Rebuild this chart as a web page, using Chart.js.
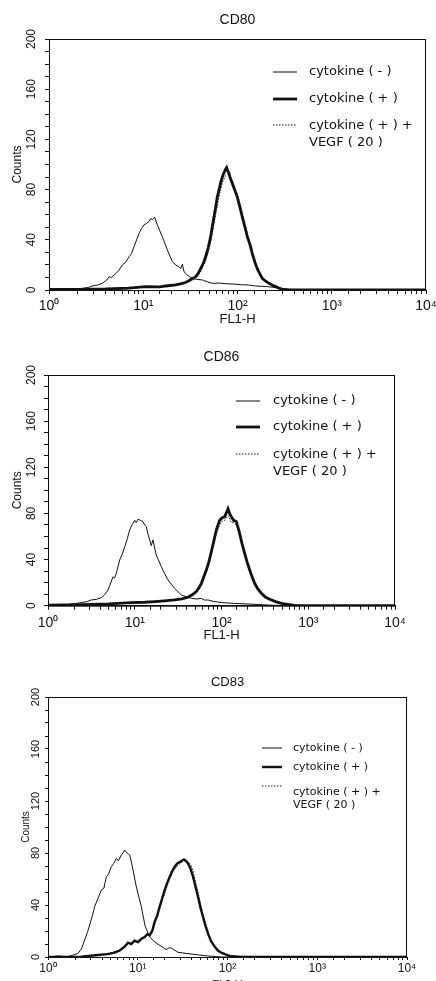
<!DOCTYPE html>
<html>
<head>
<meta charset="utf-8">
<script src="https://cdn.jsdelivr.net/npm/chart.js@4.4.1/dist/chart.umd.min.js"></script>
<style>
  body { margin: 0; background: #fff; width: 436px; height: 981px; overflow: hidden; position: relative; }
  canvas { position: absolute; left: 0; }
</style>
</head>
<body>
<canvas id="c80" width="436" height="330" style="top:0px"></canvas>
<canvas id="c86" width="436" height="310" style="top:335px"></canvas>
<canvas id="c83" width="436" height="335" style="top:660px"></canvas>
<script>
// ---- data (x = fluorescence, y = counts) ----
const seriesLabels = ['cytokine ( - )', 'cytokine ( + )', ['cytokine ( + ) +', 'VEGF ( 20 )']];
const xTickValues = [1, 10, 100, 1000, 10000];
const xTickLabels = ['10\u2070', '10\u00b9', '10\u00b2', '10\u00b3', '10\u2074'];
const yTickLabels = [0, 40, 80, 120, 160, 200];

// CD80
const cd80NegX  = [1, 1.3, 1.62, 2.0, 2.26, 2.6, 2.88, 3.3, 3.68, 4.1, 4.34, 4.6, 5.09, 5.5, 6.0, 6.5, 7.06, 7.5, 7.98, 8.5, 9.02, 9.6, 10.2, 10.8, 11.5, 12.0, 12.5, 13.2, 14.1, 15.0, 15.9, 17.0, 18.0, 19.2, 20.4, 22.0, 23.9, 25.0, 26.0, 27.0, 28.2, 30.5, 33.1, 37.0, 42.4, 48.0, 54.1, 65.0, 75.0, 88.1, 110, 130, 155, 200, 251, 300, 355, 450, 600, 1000, 10000];
const cd80NegY  = [0, 0.3, 0.5, 0.8, 1.3, 2.0, 3.2, 4.0, 5.3, 8.0, 10.6, 10.0, 13, 15.5, 20, 22, 26.5, 29, 34.5, 40, 45, 49, 52, 53, 54.5, 57, 56, 58, 52, 47, 42.5, 37, 32, 27, 22.6, 20, 18.6, 17, 20.5, 15, 13, 11, 9.3, 8.5, 8, 6.5, 5.3, 5.5, 5, 4.8, 4.2, 4.0, 3.2, 2.8, 2, 1.2, 0.5, 0.3, 0, 0, 0];
const cd80PosX  = [1, 2, 4, 7, 10.6, 15, 17.3, 22, 26, 28, 30.5, 33, 36, 38.5, 40.6, 43.5, 45.9, 49, 51.9, 55, 58.6, 61, 64.7, 67, 70.2, 72.5, 74.5, 76.7, 78.5, 81.3, 84, 88.1, 93, 99.5, 106, 112.6, 120, 127, 136, 143.6, 153, 162, 172, 183, 199, 216, 235, 254, 275, 299, 350, 1000, 10000];
const cd80PosY  = [0.5, 0.5, 0.8, 1.5, 2.7, 2.5, 3.2, 4.0, 5.3, 6.0, 7.4, 9.0, 10.6, 13.5, 17, 21.5, 26.5, 34, 42.5, 54, 66, 74, 82, 87, 91.6, 94, 96, 97.5, 95, 93, 89, 85, 80, 74, 66, 58, 50, 42.5, 36, 29, 22, 17, 13, 9.3, 7, 5.3, 3.8, 2.7, 1.5, 0.5, 0, 0, 0];
const cd80VegfX = [1, 3, 7, 12, 17, 22, 26, 30.5, 36, 40.6, 45.9, 51.9, 58.6, 64.7, 70.2, 74.5, 78.5, 81.3, 88.1, 93, 99.5, 106, 112.6, 120, 127, 136, 143.6, 153, 162, 172, 183, 199, 216, 235, 254, 275, 299, 330, 1000, 10000];
const cd80VegfY = [0.3, 0.6, 1.2, 2.5, 3.0, 3.5, 4.8, 6.8, 9.5, 14.5, 23, 38, 60, 77, 87, 91, 92, 91, 87, 82, 76, 69, 61, 53, 45, 38, 31, 24, 18.5, 14, 10.5, 7.5, 5.8, 4.2, 3.0, 1.8, 0.8, 0.3, 0, 0];

// CD86
const cd86NegX  = [1, 1.7, 2.42, 2.8, 3.16, 3.6, 4.12, 4.5, 4.92, 5.3, 5.61, 5.85, 6.14, 6.7, 7.2, 7.66, 8.2, 8.73, 9.3, 9.98, 10.4, 10.9, 11.6, 12.4, 13.0, 13.6, 14.2, 14.9, 15.5, 16.2, 17.7, 20.2, 22, 24.2, 28.8, 34.4, 40, 44.9, 52, 58.6, 64, 69.8, 80, 99.5, 140, 202, 300, 410, 1000, 10000];
const cd86NegY  = [0, 0.9, 2.7, 3.5, 5, 5.5, 7, 9.5, 13.6, 20, 25, 24, 28, 39.6, 45, 51, 58, 65.6, 70, 74, 72, 75, 74, 73, 70, 68.5, 62, 57, 52, 57, 44, 34, 28, 22.3, 15, 9.3, 7.5, 6.4, 5.8, 6.4, 4.8, 5, 3.8, 2.7, 2, 1.5, 0.8, 0.3, 0, 0];
const cd86PosX  = [1, 2.5, 5, 9.1, 13, 17, 22, 28.8, 35, 41.1, 46, 51.3, 55, 58.6, 62.5, 66.8, 71.5, 76.4, 81.5, 87.1, 91, 95.3, 101, 108.6, 113, 118.9, 124, 129.7, 138, 148.3, 161.8, 172, 184.9, 197, 211.3, 225, 241, 262, 287.7, 320, 358.9, 420, 489.8, 600, 696.6, 1000, 10000];
const cd86PosY  = [0.5, 0.9, 1.5, 2.7, 3.0, 3.6, 4.2, 5, 6, 7.3, 9.5, 12.2, 15.5, 19.4, 25, 31, 38, 47, 56, 65.6, 70, 74, 76, 77, 80, 84, 80, 77, 74, 73, 62.7, 54, 45.4, 38, 31, 25, 19.4, 14.5, 10.7, 7.5, 5.6, 3.5, 2.1, 1.0, 0.3, 0, 0];
const cd86VegfX = [1, 3, 9.1, 17, 28.8, 41.1, 51.3, 58.6, 66.8, 76.4, 87.1, 95.3, 101, 108.6, 118.9, 124, 129.7, 138, 148.3, 161.8, 172, 184.9, 197, 211.3, 225, 241, 262, 287.7, 320, 358.9, 420, 489.8, 600, 1000, 10000];
const cd86VegfY = [0.3, 0.8, 2.4, 3.5, 5.2, 7.8, 12, 18.5, 29, 44, 62, 70, 73, 74, 78, 76, 72, 72, 70, 63, 56, 47, 40, 33, 27, 21, 16, 12, 8.2, 6, 3.8, 2.3, 1, 0, 0];

// CD83
const cd83NegX  = [1, 1.3, 1.67, 1.9, 2.16, 2.35, 2.56, 2.75, 2.91, 3.1, 3.31, 3.6, 3.93, 4.2, 4.47, 4.75, 5.08, 5.4, 5.77, 6.1, 6.56, 6.85, 7.14, 7.6, 8.13, 8.5, 8.85, 9.64, 10.3, 10.96, 12.13, 13.58, 15.42, 18.3, 20.8, 22.2, 23.7, 28.1, 36.3, 45, 55.7, 85.1, 10000];
const cd83NegY  = [0, 0.8, 0.3, 1.5, 2.8, 6, 13, 19, 24.6, 31, 38.7, 45, 51.5, 53, 61.8, 64, 69.5, 72, 75.9, 74, 78.5, 80, 82.3, 80, 78.5, 73, 67, 54, 46, 38.7, 23.3, 15.4, 11.5, 8.2, 5.6, 7, 6.9, 3.6, 2.6, 1.8, 1, 0, 0];
const cd83PosX  = [1, 2.35, 3.61, 4.6, 5.53, 6.3, 7.14, 7.8, 8.47, 9.2, 10.07, 11, 11.94, 12.8, 13.58, 14.5, 15.42, 16.5, 17.54, 18.7, 19.95, 21.3, 22.7, 24.2, 25.8, 27.5, 29.3, 31, 32.7, 34.5, 36.3, 38.7, 41.3, 44, 46.9, 50, 53.3, 56.9, 60.7, 65.8, 71.9, 78, 85.3, 95, 105.7, 120, 142.6, 10000];
const cd83PosY  = [0, 0.3, 1.5, 2.2, 3.3, 5, 8, 11, 10, 12.5, 11.5, 14, 15.4, 17.5, 16.7, 20, 27, 32, 38.7, 45, 51.5, 57, 61.8, 66, 69.5, 72, 73, 74, 75.1, 74, 72, 68, 61.8, 54, 46.4, 38, 31, 24, 18, 12, 8, 5, 3.3, 2, 0.8, 0.5, 0, 0];
const cd83VegfX = [1, 2.6, 4.6, 6.3, 7.8, 9.2, 11, 12.8, 14.5, 16.5, 18.7, 21.3, 24.2, 27.5, 31, 34.5, 36.3, 38.7, 41.3, 44, 46.9, 50, 53.3, 56.9, 60.7, 65.8, 71.9, 78, 85.3, 95, 110, 10000];
const cd83VegfY = [0, 0.5, 2.4, 5.5, 10, 12, 13.5, 17, 20.5, 31, 43, 55, 65, 70, 73, 74, 73, 71.5, 66, 58, 50, 41, 33, 26, 19.5, 13, 8.5, 5.5, 3.5, 1.8, 0.5, 0];

const INK = '#111';
const SANS = "'Liberation Sans', Arial, sans-serif";
const NARROW = "'Liberation Sans Narrow', 'Liberation Sans', sans-serif";
const GENEVA = "'DejaVu Sans', Verdana, sans-serif";

// box round the plot
const frame = {
  id: 'frame',
  beforeDatasetsDraw(chart) {
    const { ctx, chartArea: a } = chart;
    ctx.save();
    ctx.strokeStyle = INK;
    ctx.lineWidth = 1;
    ctx.strokeRect(a.left + 0.5, a.top + 0.5, a.right - a.left - 1, a.bottom - a.top);
    ctx.restore();
  }
};

// legend drawn inside the plot, right side
const insetLegend = {
  id: 'insetLegend',
  afterDatasetsDraw(chart, args, o) {
    const { ctx } = chart;
    ctx.save();
    ctx.font = o.size + 'px ' + GENEVA;
    ctx.fillStyle = INK;
    ctx.textBaseline = 'middle';
    chart.data.datasets.forEach((ds, i) => {
      ctx.beginPath();
      ctx.strokeStyle = ds.borderColor;
      ctx.lineWidth = ds.borderWidth;
      ctx.setLineDash(ds.borderDash || []);
      ctx.moveTo(o.x, o.rows[i]);
      ctx.lineTo(o.x + o.len, o.rows[i]);
      ctx.stroke();
      [].concat(ds.label).forEach((t, k) => ctx.fillText(t, o.textX, o.textRows[i] + k * o.gap));
    });
    ctx.restore();
  }
};

function series(label, xs, ys, width, dash) {
  return {
    label,
    data: xs.map((x, i) => ({ x, y: ys[i] })),
    borderColor: INK,
    borderWidth: width,
    borderDash: dash,
    pointRadius: 0,
    tension: 0,
    fill: false
  };
}

function histogram(id, c) {
  return new Chart(document.getElementById(id), {
    type: 'line',
    data: {
      datasets: [
        series(seriesLabels[0], c.neg[0], c.neg[1], 1, []),
        series(seriesLabels[1], c.pos[0], c.pos[1], c.thick, []),
        series(seriesLabels[2], c.vegf[0], c.vegf[1], 1, [1.5, 1.5])
      ]
    },
    options: {
      responsive: false,
      animation: false,
      events: [],
      layout: { padding: { left: 0, right: c.right, top: 0, bottom: 0 } },
      plugins: {
        legend: { display: false },
        tooltip: { enabled: false },
        title: {
          display: true, text: c.title, fullSize: false, color: INK,
          font: { family: SANS, size: c.titleSize, weight: 'normal' },
          padding: c.titlePad
        },
        insetLegend: c.legend
      },
      scales: {
        x: {
          type: 'logarithmic', min: 1, max: 10000,
          border: { display: true, color: INK, width: 1 },
          grid: { drawOnChartArea: false, drawTicks: true, tickLength: c.xTick, color: INK },
          ticks: {
            autoSkip: false, maxRotation: 0, minRotation: 0, padding: c.xPad, color: INK,
            font: { family: NARROW, size: c.xFont },
            callback: v => {
              const i = xTickValues.findIndex(t => Math.abs(t - v) < 1e-6);
              return i >= 0 ? xTickLabels[i] : '';
            }
          },
          title: {
            display: true, text: c.xTitle, color: INK,
            font: { family: SANS, size: c.xTitleSize }, padding: { top: 0, bottom: c.xTitlePad }
          },
          afterFit: s => { s.height = c.xHeight; s.paddingLeft = 0; s.paddingRight = 0; }
        },
        y: {
          min: 0, max: 200,
          border: { display: true, color: INK, width: 1 },
          grid: { drawOnChartArea: false, drawTicks: true, tickLength: c.yTick, color: INK },
          ticks: {
            stepSize: 10, autoSkip: false, minRotation: 90, maxRotation: 90,
            crossAlign: 'center', padding: c.yPad, color: INK,
            font: { family: NARROW, size: c.yFont },
            callback: v => yTickLabels.includes(v) ? String(v) : ''
          },
          title: {
            display: true, text: 'Counts', color: INK,
            font: { family: SANS, size: c.yTitleSize }, padding: { top: c.yTitlePad, bottom: 0 }
          },
          afterFit: s => { s.width = c.yWidth; s.paddingTop = 0; s.paddingBottom = 0; }
        }
      }
    },
    plugins: [frame, insetLegend]
  });
}

histogram('c80', {
  title: 'CD80', titleSize: 14, titlePad: { top: 11.6, bottom: 10.6 },
  neg: [cd80NegX, cd80NegY], pos: [cd80PosX, cd80PosY], vegf: [cd80VegfX, cd80VegfY], thick: 2.8,
  right: 10, xHeight: 40, yWidth: 49,
  xTick: 4, xPad: 4, xFont: 14, xTitle: 'FL1-H', xTitleSize: 13, xTitlePad: 3.2,
  yTick: 4, yPad: 3, yFont: 12, yTitleSize: 12, yTitlePad: 10.8,
  legend: { x: 273, len: 24, rows: [72, 99, 125], textX: 309, textRows: [72, 99, 126], gap: 17, size: 13 }
});

histogram('c86', {
  title: 'CD86', titleSize: 14, titlePad: { top: 13.6, bottom: 9.6 },
  neg: [cd86NegX, cd86NegY], pos: [cd86PosX, cd86PosY], vegf: [cd86VegfX, cd86VegfY], thick: 2.8,
  right: 41, xHeight: 39.3, yWidth: 48,
  xTick: 4, xPad: 5, xFont: 14, xTitle: 'FL1-H', xTitleSize: 13, xTitlePad: 2.2,
  yTick: 4, yPad: 2, yFont: 12, yTitleSize: 12, yTitlePad: 10.8,
  legend: { x: 236, len: 24, rows: [66, 92, 119], textX: 273, textRows: [66, 92, 120], gap: 17, size: 13 }
});

histogram('c83', {
  title: 'CD83', titleSize: 13, titlePad: { top: 14.2, bottom: 7.2 },
  neg: [cd83NegX, cd83NegY], pos: [cd83PosX, cd83PosY], vegf: [cd83VegfX, cd83VegfY], thick: 2.4,
  right: 29, xHeight: 38, yWidth: 48,
  xTick: 3, xPad: 1, xFont: 12, xTitle: 'FL2-H', xTitleSize: 11, xTitlePad: 3.4,
  yTick: 3, yPad: 0, yFont: 11, yTitleSize: 10, yTitlePad: 20,
  legend: { x: 262, len: 20, rows: [88, 107, 126], textX: 293, textRows: [88, 107, 132], gap: 13, size: 11 }
});
</script>
</body>
</html>
